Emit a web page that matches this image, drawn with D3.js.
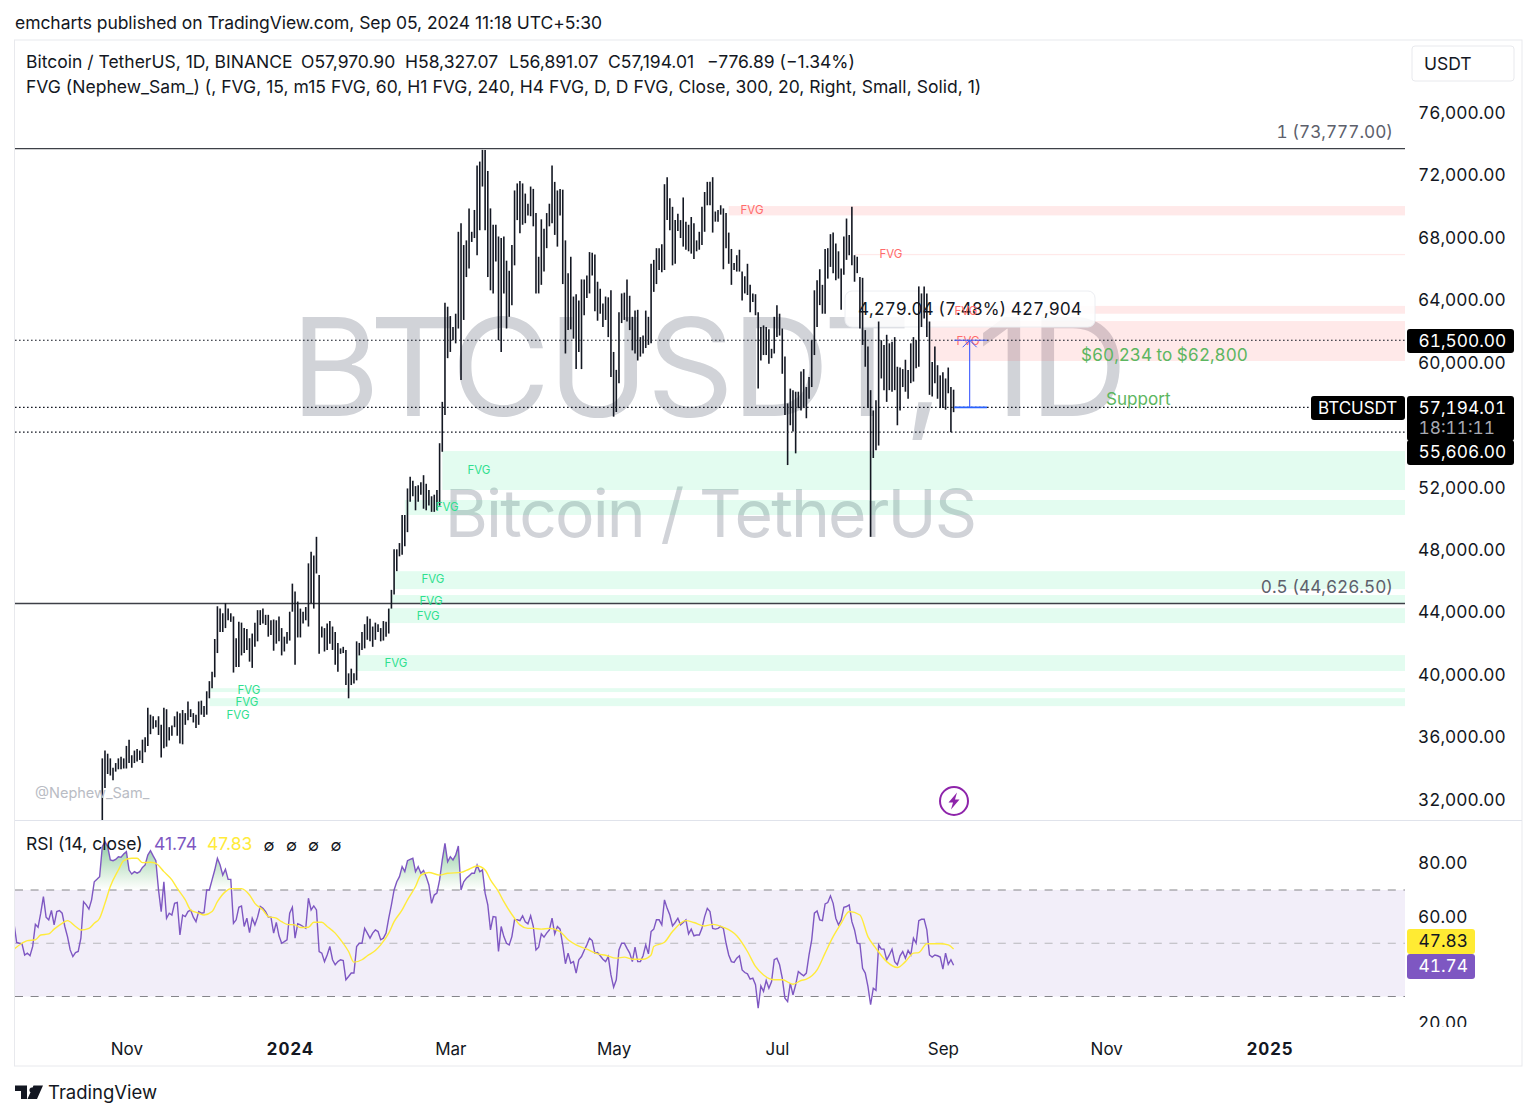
<!DOCTYPE html>
<html>
<head>
<meta charset="utf-8">
<script src="https://cdn.jsdelivr.net/npm/d3@7"></script>
<style>
	html, body { margin: 0; padding: 0; background: #fff; }
	svg { display: block; }
	text { font-family: Inter, "Noto Sans", sans-serif; fill: #131722; }
</style>
</head>
<body>
<script>
// daily highs / lows in thousands of USDT, first bar is 23 Oct 2023
var highs = [
	34.7,35.2,35.0,34.7,34.1,34.4,34.7,34.8,34.7,35.5,
	35.9,34.9,35.2,35.3,35.2,35.9,36.05,37.95,37.5,37.4,
	37.15,37.4,36.85,37.95,37.85,36.7,36.8,37.4,37.7,37.6,
	37.8,37.6,38.35,37.85,37.6,37.5,38.35,38.4,38.05,39.0,
	39.65,40.25,42.35,44.45,44.3,44.0,44.65,44.3,44.0,43.8,
	42.4,43.45,43.4,43.05,43.0,42.4,42.7,43.4,44.2,44.2,
	44.3,43.9,43.9,43.55,43.6,43.55,43.8,43.05,42.5,42.8,
	44.1,45.9,45.4,44.75,44.3,44.1,44.4,47.2,47.95,47.7,
	48.9,46.45,43.15,43.05,43.35,43.5,43.15,42.8,42.1,41.75,
	41.85,41.65,40.15,40.45,40.15,42.2,42.1,42.8,43.3,43.8,
	43.65,43.15,43.4,43.3,43.05,43.5,43.45,44.3,45.5,48.1,
	48.1,48.5,50.3,50.3,52.0,52.75,52.5,52.15,52.2,52.4,
	52.85,52.3,51.9,51.5,51.6,51.9,54.9,57.55,63.9,63.65,
	63.05,62.35,63.2,68.45,69.0,67.6,67.9,69.95,68.45,69.85,
	72.7,72.95,73.7,73.7,72.35,69.95,68.9,68.9,68.15,68.05,
	68.15,66.6,65.95,67.6,71.1,71.55,71.7,71.55,70.9,70.25,
	71.35,71.2,69.65,66.85,69.25,68.65,69.65,70.25,72.7,71.65,
	71.1,71.2,71.15,67.9,65.8,66.85,64.3,64.45,64.05,65.4,
	65.4,65.65,67.15,67.1,67.0,65.25,64.8,63.85,64.3,64.25,
	64.7,60.75,59.6,63.3,64.5,64.55,65.4,64.35,63.0,63.4,
	63.45,61.7,61.8,63.4,63.0,66.4,66.65,67.4,67.4,67.65,
	71.5,71.95,70.6,70.05,69.2,69.6,69.2,70.65,69.1,68.9,
	69.4,69.0,67.9,68.45,70.05,71.0,71.65,71.65,71.95,69.75,
	69.85,70.15,69.95,69.65,68.4,67.35,66.45,66.95,67.3,65.9,
	65.6,66.4,65.05,64.5,64.45,63.3,62.35,62.45,62.35,62.2,
	60.95,63.0,63.75,63.2,62.25,60.45,57.45,58.4,58.3,58.2,
	58.2,59.5,59.65,58.5,59.15,61.5,64.7,65.35,66.05,65.05,
	67.35,67.4,68.3,68.4,67.7,67.2,66.1,68.15,69.3,68.25,
	70.05,66.95,66.85,65.55,65.5,62.15,61.1,58.3,57.0,57.65,
	62.7,61.5,61.2,61.85,61.3,61.4,61.7,59.8,59.75,59.65,
	60.25,59.6,61.3,61.7,61.5,64.95,64.5,64.95,64.5,62.7,
	60.1,61.1,59.9,59.25,59.45,59.05,59.75,58.5,58.33
];
var lows = [
	30.75,32.8,33.7,33.6,33.3,33.85,34.0,34.0,34.05,34.05,
	34.4,34.1,34.4,34.5,34.6,34.4,35.1,35.5,36.25,36.6,
	36.7,36.2,34.75,35.35,35.45,35.85,36.15,36.7,36.15,35.65,
	35.6,36.85,37.15,37.35,37.0,36.65,36.85,37.5,37.35,37.5,
	38.55,39.2,39.9,41.45,42.8,42.8,43.05,43.55,43.45,40.2,
	40.55,40.55,41.3,41.45,41.65,40.9,40.5,41.85,42.2,43.25,
	43.35,43.25,42.5,42.6,41.6,42.05,42.2,41.3,41.55,42.05,
	42.25,44.1,40.7,42.45,42.45,43.35,43.55,43.15,44.65,44.3,
	46.55,41.4,42.45,41.55,41.65,42.05,41.65,40.7,40.25,41.4,
	41.45,39.4,38.55,39.4,39.5,39.7,41.3,41.65,41.75,42.3,
	42.2,41.85,42.3,42.8,42.2,42.25,42.5,42.7,44.3,45.2,
	46.7,47.65,47.75,48.3,49.2,51.15,51.5,50.6,51.15,51.6,
	50.7,50.6,50.9,50.5,50.5,50.6,50.9,54.35,56.7,60.35,
	60.75,61.5,61.3,62.25,58.95,62.8,65.55,66.1,67.8,68.05,
	66.95,68.55,71.35,68.55,65.55,64.7,64.5,66.55,61.5,60.75,
	64.5,62.25,63.0,63.75,66.3,69.2,68.35,68.9,69.0,69.5,
	69.45,68.8,64.5,64.5,65.05,65.9,67.4,68.8,69.0,68.25,
	67.5,69.5,65.1,60.65,62.15,62.2,61.6,59.65,60.75,59.65,
	63.1,64.2,64.5,65.65,63.35,62.75,63.2,62.35,62.8,61.7,
	59.15,56.6,56.9,58.75,62.6,62.8,62.7,62.15,60.85,60.65,
	60.2,60.45,60.65,61.0,61.2,61.3,64.6,65.1,66.0,65.85,
	66.0,69.2,68.55,66.3,66.4,68.5,68.05,67.5,67.3,67.2,
	67.05,66.7,67.2,67.3,67.6,68.45,70.15,70.15,68.4,69.1,
	69.1,69.55,66.05,67.4,66.4,65.05,66.0,65.9,65.9,64.05,
	64.5,64.4,63.3,63.95,63.1,58.4,60.2,60.55,60.55,60.0,
	60.35,60.65,61.7,61.8,59.35,56.7,53.5,56.05,55.65,54.25,
	57.15,57.0,57.15,56.5,57.75,58.5,60.55,62.35,63.75,63.2,
	63.2,65.45,66.2,65.8,65.35,65.45,63.45,65.7,66.65,66.95,
	66.3,65.25,65.8,62.25,61.2,59.8,57.15,48.9,53.95,54.45,
	54.75,59.05,58.3,57.55,58.3,58.2,58.3,56.05,57.0,58.5,
	58.2,57.75,58.75,58.85,59.7,59.8,62.35,62.9,61.7,58.0,
	57.9,58.75,57.75,57.15,57.15,57.05,58.1,55.6,56.89
];

// RSI(14), one value a day, the last one belongs to the last bar
var rsi = [
	57.5,50.3,50.0,49.8,45.6,46.3,45.3,48.8,57.1,56.0,61.3,
	67.5,59.8,58.8,62.3,56.9,61.9,62.3,61.3,56.3,52.5,47.5,45.0,46.5,46.9,51.9,65.6,64.4,62.8,66.3,73.1,74.0,75.0,
	86.3,88.1,86.3,81.3,81.0,81.5,82.5,82.3,83.5,84.4,77.5,76.0,76.9,76.3,76.9,78.5,79.4,83.1,84.8,82.8,81.0,
	70.0,61.9,73.1,59.4,61.3,60.6,65.0,65.3,53.1,60.6,60.0,61.9,62.5,59.8,58.1,61.9,61.3,61.5,70.0,70.0,73.8,77.5,
	81.9,79.4,75.6,77.8,74.0,74.0,57.5,58.8,63.5,64.0,56.3,59.4,54.0,59.4,56.9,59.8,63.8,63.1,61.9,59.8,59.8,53.8,
	57.8,52.8,50.0,50.6,51.3,61.3,63.5,51.9,57.3,56.9,56.3,55.6,66.9,62.5,64.0,62.5,46.9,46.3,43.1,45.6,48.8,43.8,
	41.9,43.1,43.8,43.5,36.3,37.5,38.8,38.8,48.8,50.0,50.0,55.6,53.8,51.9,53.8,55.0,54.4,51.3,51.9,53.8,59.4,64.4,
	70.0,73.1,75.0,78.8,76.9,81.0,81.5,81.9,76.9,78.8,76.3,77.3,75.0,71.9,65.0,68.1,68.8,73.8,81.3,87.5,80.6,82.5,
	81.3,83.1,86.5,70.0,73.1,74.4,75.3,76.3,76.3,79.4,76.9,77.5,68.8,64.4,55.0,60.0,59.8,46.9,56.3,52.5,50.0,49.4,
	52.5,58.8,
	58.8,58.5,60.3,58.1,57.3,60.3,56.3,47.5,48.5,53.5,52.3,53.8,55.0,59.4,53.5,56.3,55.3,49.4,42.3,46.3,42.5,43.1,
	38.8,43.8,45.0,47.3,49.4,51.9,51.0,46.3,46.5,45.3,44.0,43.1,45.0,38.1,33.5,36.3,47.5,50.0,50.0,48.1,46.3,43.1,
	48.5,43.1,43.1,45.3,49.4,46.0,54.4,55.3,58.8,58.8,56.9,66.3,63.1,60.6,56.5,57.8,59.4,56.9,57.8,58.8,53.5,55.3,
	52.8,53.1,53.1,55.6,60.0,63.1,61.9,55.6,55.3,55.6,56.3,55.6,
	50.0,45.6,43.1,42.8,44.4,45.3,40.0,39.0,38.5,36.5,36.9,34.4,25.6,34.0,31.9,36.0,33.1,35.6,43.8,44.4,41.9,36.9,
	29.4,28.1,35.0,30.6,34.4,39.4,38.5,37.8,38.8,45.6,51.3,61.3,62.1,58.8,58.5,64.8,65.3,67.8,
	65.0,59.4,56.9,58.8,63.5,63.8,64.4,58.1,55.0,50.0,49.8,40.6,38.8,33.8,26.9,33.1,32.3,49.4,47.8,47.8,43.8,45.6,
	47.8,43.1,41.9,45.3,46.9,44.4,47.3,45.6,51.9,50.0,58.5,59.0,59.0,55.0,45.6,44.8,45.6,45.3,44.8,40.3,46.3,42.1,
	43.8,41.74
];

// RSI moving average, read at the corners of the smooth yellow curve
var rsiMaDays = [
	-33,-30,-28,-25,-23,-20,-18,-15,-13,-10,-8,-5,-3,-1,1,3,6,8,11,13,15,18,20,23,26,28,31,33,36,38,41,43,46,48,52,55,
	57,60,62,65,67,69,72,74,77,79,82,84,87,89,92,94,97,99,102,104,107,109,112,114,117,119,122,126,129,134,137,140,143,
	145,148,150,154,156,159,161,164,167,171,174,177,181,185,188,192,195,198,202,205,206,210,213,218,221,225,228,232,
	237,241,244,247,251,254,258,261,263,267,270,273,276,279,283,286,289,293,297,300,303,305,308,313,316,318
];
var rsiMa = [
	47.8,50,51,51.3,53.1,53.5,55.3,57.5,58.5,56.3,55,55.6,57.5,59.4,65,71.3,77.5,81,81.9,81.9,80.3,80.4,80,76.9,73.8,70.6,
	66.3,62.5,61.3,60.6,61.9,65.6,69.4,70.5,70.5,68.1,
	65,62.5,60,59.4,58.1,57.1,56.9,55.9,56,57.9,57.9,56.3,53.8,51.3,46.9,42.9,43.8,45.3,47.3,49.4,53.8,58.1,62.5,66.3,
	71.3,75.6,76.6,75.6,76.3,76.6,77.8,79,77.5,
	73.8,69.4,65.6,59.4,56.9,55.6,55.6,55.3,55.6,54.4,51.3,49.4,47.8,46,45.5,44.4,44.8,44,44,45.6,48.8,50.4,54.4,58.5,
	57.8,56.5,57.1,56,
	52.8,46.9,41.3,38.1,36.3,36.3,34.6,36,36.5,40,46.3,52.5,57.5,61.9,60.6,52.5,48.1,43.1,40.9,43.1,46.3,46.5,49.8,49.8,
	49.4,47.83
];

var priceTicks = [32, 36, 40, 44, 48, 52, 56, 60, 64, 68, 72, 76];
var rsiTicks = [20, 40, 60, 80];
var rsiBands = [70, 50, 30];
var timeTickDates = [
	new Date(Date.UTC(2023, 10, 1)), new Date(Date.UTC(2024, 0, 1)), new Date(Date.UTC(2024, 2, 1)),
	new Date(Date.UTC(2024, 4, 1)), new Date(Date.UTC(2024, 6, 1)), new Date(Date.UTC(2024, 8, 1)),
	new Date(Date.UTC(2024, 10, 1)), new Date(Date.UTC(2025, 0, 1))
];
var timeTickLabels = ["Nov", "2024", "Mar", "May", "Jul", "Sep", "Nov", "2025"];

// fair value gaps: low, high (thousands), first day
var fvgRedLow = [69.5, 66.95, 63.2, 60.17];
var fvgRedHigh = [70.1, 67.03, 63.7, 62.73];
var fvgRedDay = [234, 281, 309, 309];
var fvgGreenLow = [51.9, 50.3, 45.55, 44.6, 43.37, 40.3, 38.95, 38.05];
var fvgGreenHigh = [54.4, 51.26, 46.7, 45.17, 44.33, 41.32, 39.2, 38.56];
var fvgGreenDay = [127, 113, 109, 108, 107, 95, 40, 40];
var redLabelDay = [242.7, 294.6, 322.6, 323.4];
var redLabelPrice = [69.85, 67.0, 63.4, 61.45];
var greenLabelDay = [140.7, 128.8, 123.5, 122.8, 121.7, 109.7, 54.8, 54.0, 50.7];
var greenLabelPrice = [53.2, 50.8, 46.2, 44.8, 43.8, 40.8, 39.1, 38.3, 37.5];

var fibLevels = [73.777, 44.6265];
var fibLabels = ["1 (73,777.00)", "0.5 (44,626.50)"];
var dottedLevels = [61.5, 57.19401, 55.606];

var display = {
	width: 1536,
	height: 1118,
	paneLeft: 15,
	paneRight: 1405,
	paneTop: 41,
	paneBottom: 820,
	rsiBottom: 1026,

	dayDate: function(i) {
		return new Date(Date.UTC(2023, 9, 23) + i * 864e5);
	},
	xDay: function(i) {
		return display.x(display.dayDate(i));
	},
	label: function(g, x, y, txt, opts) {
		opts = opts || {};
		return g.append("text")
			.attr("x", x)
			.attr("y", y)
			.attr("dy", "0.35em")
			.attr("text-anchor", opts.anchor || "start")
			.style("font-size", (opts.size || 17.5) + "px")
			.style("font-weight", opts.weight || 400)
			.style("letter-spacing", (opts.spacing || 0) + "px")
			.style("font-variant-numeric", opts.tnum ? "tabular-nums" : "normal")
			.style("fill", opts.fill || "#131722")
			.text(txt);
	},
	priceBox: function(g, x, y, w, h, fill) {
		g.append("rect").attr("x", x).attr("y", y).attr("width", w).attr("height", h).attr("rx", 3).attr("fill", fill);
	},

	initialize: function() {
		var svg = d3.select("body").append("svg")
			.attr("width", display.width)
			.attr("height", display.height);
		display.svg = svg;

		display.x = d3.scaleUtc()
			.domain([display.dayDate(0), display.dayDate(318)])
			.range([102.3, 953.6]);
		display.y = d3.scaleLinear().domain([32, 76]).range([800.5, 114]);
		display.yRsi = d3.scaleLinear().domain([30, 70]).range([996.5, 890]);

		var defs = svg.append("defs");
		defs.append("clipPath").attr("id", "pricePane").append("rect")
			.attr("x", display.paneLeft).attr("y", display.paneTop)
			.attr("width", display.paneRight - display.paneLeft).attr("height", display.paneBottom - display.paneTop);
		defs.append("clipPath").attr("id", "rsiPane").append("rect")
			.attr("x", display.paneLeft).attr("y", display.paneBottom + 1)
			.attr("width", display.paneRight - display.paneLeft).attr("height", display.rsiBottom - display.paneBottom);
		defs.append("clipPath").attr("id", "rsiAxisClip").append("rect")
			.attr("x", 1406).attr("y", display.paneBottom + 1)
			.attr("width", 115).attr("height", display.rsiBottom - display.paneBottom);
		defs.append("clipPath").attr("id", "rsiOver").append("rect")
			.attr("x", display.paneLeft).attr("y", display.paneBottom + 1)
			.attr("width", display.paneRight - display.paneLeft).attr("height", display.yRsi(70) - display.paneBottom - 1);
		var grad = defs.append("linearGradient").attr("id", "rsiFill")
			.attr("gradientUnits", "userSpaceOnUse")
			.attr("x1", 0).attr("x2", 0).attr("y1", display.yRsi(88)).attr("y2", display.yRsi(70));
		grad.append("stop").attr("offset", 0).attr("stop-color", "#2e9e5b").attr("stop-opacity", 0.55);
		grad.append("stop").attr("offset", 1).attr("stop-color", "#4caf50").attr("stop-opacity", 0);

		display.drawFrame(svg);
		display.drawPrice(svg);
		display.drawRsi(svg);
		display.drawAxes(svg);
		display.drawHeader(svg);
	},

	drawFrame: function(svg) {
		svg.append("rect")
			.attr("x", 14.5).attr("y", 40).attr("width", 1507.5).attr("height", 1026)
			.attr("fill", "#fff").attr("stroke", "#e8e9ed");
		svg.append("line")
			.attr("x1", 15).attr("x2", 1522).attr("y1", 820.5).attr("y2", 820.5)
			.attr("stroke", "#e0e3eb");
	},

	drawPrice: function(svg) {
		var x = display.x, y = display.y, xDay = display.xDay;
		var g = svg.append("g").attr("clip-path", "url(#pricePane)");

		// watermark
		display.label(g, 708, 368, "BTCUSDT, 1D", { anchor: "middle", size: 136, spacing: -2.4, fill: "#d1d3d8" });
		display.label(g, 710, 514, "Bitcoin / TetherUS", { anchor: "middle", size: 66, spacing: -1.9, fill: "#d1d3d8" });

		g.selectAll(".fvgRed").data(fvgRedLow).enter().append("rect")
			.attr("class", "fvgRed")
			.attr("x", function(d, i) { return xDay(fvgRedDay[i]); })
			.attr("y", function(d, i) { return y(fvgRedHigh[i]); })
			.attr("width", function(d, i) { return display.paneRight - xDay(fvgRedDay[i]); })
			.attr("height", function(d, i) { return y(d) - y(fvgRedHigh[i]); })
			.attr("fill", "#ff5252").attr("fill-opacity", 0.13);
		g.selectAll(".fvgGreen").data(fvgGreenLow).enter().append("rect")
			.attr("class", "fvgGreen")
			.attr("x", function(d, i) { return xDay(fvgGreenDay[i]); })
			.attr("y", function(d, i) { return y(fvgGreenHigh[i]); })
			.attr("width", function(d, i) { return display.paneRight - xDay(fvgGreenDay[i]); })
			.attr("height", function(d, i) { return y(d) - y(fvgGreenHigh[i]); })
			.attr("fill", "#00e676").attr("fill-opacity", 0.11);

		g.selectAll(".dotted").data(dottedLevels).enter().append("line")
			.attr("class", "dotted")
			.attr("x1", display.paneLeft).attr("x2", display.paneRight)
			.attr("y1", function(d) { return y(d); }).attr("y2", function(d) { return y(d); })
			.attr("stroke", "#131722").attr("stroke-width", 1.2).attr("stroke-dasharray", "1.6 2.4");
		g.selectAll(".fib").data(fibLevels).enter().append("line")
			.attr("class", "fib")
			.attr("x1", display.paneLeft).attr("x2", display.paneRight)
			.attr("y1", function(d) { return y(d); }).attr("y2", function(d) { return y(d); })
			.attr("stroke", "#3d4047").attr("stroke-width", 1.3);
		fibLevels.forEach(function(d, i) {
			display.label(g, 1393, y(d) - 16.5, fibLabels[i], { anchor: "end", fill: "#5d606b", size: 17.2, tnum: true });
		});

		// measure tool tooltip sits under the bars
		g.append("rect")
			.attr("x", 845).attr("y", 291).attr("width", 250).attr("height", 36).attr("rx", 7)
			.attr("fill", "#fff").attr("fill-opacity", 0.86)
			.attr("stroke", "#eceef2");
		display.label(g, 858, 309, "4,279.04 (7.48%) 427,904", { size: 17.1, tnum: true });

		g.selectAll(".bar").data(highs).enter().append("line")
			.attr("class", "bar")
			.attr("x1", function(d, i) { return xDay(i); })
			.attr("x2", function(d, i) { return xDay(i); })
			.attr("y1", function(d) { return y(d); })
			.attr("y2", function(d, i) { return y(lows[i]); })
			.attr("stroke", "#131722").attr("stroke-width", 1.6);

		redLabelDay.forEach(function(d, i) {
			display.label(g, xDay(d), y(redLabelPrice[i]), "FVG", { anchor: "middle", size: 11.5, fill: "#ff6b6b" });
		});
		greenLabelDay.forEach(function(d, i) {
			display.label(g, xDay(d), y(greenLabelPrice[i]), "FVG", { anchor: "middle", size: 11.5, fill: "#2fe08f" });
		});

		// measure tool, from the last close up to 61,500
		var mx = xDay(324), ml = xDay(318.2), mr = xDay(330.5);
		g.append("line").attr("x1", mx).attr("x2", mx).attr("y1", y(61.5)).attr("y2", y(57.19401)).attr("stroke", "#3d5afe").attr("stroke-width", 1.1);
		g.append("line").attr("x1", ml).attr("x2", mr).attr("y1", y(61.5)).attr("y2", y(61.5)).attr("stroke", "#3d5afe").attr("stroke-width", 1);
		g.append("line").attr("x1", ml).attr("x2", mr).attr("y1", y(57.19401)).attr("y2", y(57.19401)).attr("stroke", "#2962ff").attr("stroke-width", 1.6);
		g.append("path")
			.attr("d", "M" + (mx - 7) + "," + (y(61.5) + 7) + "L" + mx + "," + y(61.5) + "L" + (mx + 7) + "," + (y(61.5) + 7))
			.attr("fill", "none").attr("stroke", "#3d5afe").attr("stroke-width", 1);

		display.label(g, 1081, 355, "$60,234 to $62,800", { fill: "#5cb660", size: 17.1, tnum: true });
		display.label(g, 1106, 399, "Support", { fill: "#5cb660", size: 17.1 });
		display.label(g, 35, 793, "@Nephew_Sam_", { fill: "#b9bcc4", size: 14.5 });

		// lightning badge
		g.append("circle").attr("cx", 954).attr("cy", 801).attr("r", 14)
			.attr("fill", "#fff").attr("stroke", "#8e24aa").attr("stroke-width", 2);
		g.append("path").attr("d", "M957,792.5L948.5,802.5H953L951,809.5L959.5,799.5H955Z").attr("fill", "#8e24aa");
	},

	drawRsi: function(svg) {
		var yRsi = display.yRsi, xDay = display.xDay;
		var g = svg.append("g").attr("clip-path", "url(#rsiPane)");
		var rsiStart = 318 - rsi.length + 1;

		g.append("rect")
			.attr("x", display.paneLeft).attr("y", yRsi(70))
			.attr("width", display.paneRight - display.paneLeft).attr("height", yRsi(30) - yRsi(70))
			.attr("fill", "#7e57c2").attr("fill-opacity", 0.1);
		g.selectAll(".band").data(rsiBands).enter().append("line")
			.attr("class", "band")
			.attr("x1", display.paneLeft).attr("x2", display.paneRight)
			.attr("y1", function(d) { return yRsi(d); }).attr("y2", function(d) { return yRsi(d); })
			.attr("stroke", function(d) { return d == 50 ? "#b8b8bc" : "#85858a"; })
			.attr("stroke-width", 1.1).attr("stroke-dasharray", "8 7.6");

		var rsiX = function(d, i) { return xDay(rsiStart + i); };
		var area = d3.area().x(rsiX).y0(yRsi(70)).y1(function(d) { return yRsi(d); });
		g.append("path").datum(rsi)
			.attr("clip-path", "url(#rsiOver)")
			.attr("d", area).attr("fill", "url(#rsiFill)");
		g.append("path").datum(rsi)
			.attr("d", d3.line().x(rsiX).y(function(d) { return yRsi(d); }))
			.attr("fill", "none").attr("stroke", "#7e57c2").attr("stroke-width", 1.4);
		g.append("path").datum(rsiMa)
			.attr("d", d3.line().curve(d3.curveMonotoneX)
				.x(function(d, i) { return xDay(rsiMaDays[i]); })
				.y(function(d) { return yRsi(d); }))
			.attr("fill", "none").attr("stroke", "#ffeb3b").attr("stroke-width", 1.4);

		display.label(svg, 26, 844, "RSI (14, close)");
		display.label(svg, 154, 844, "41.74", { fill: "#7e57c2" });
		display.label(svg, 207, 844, "47.83", { fill: "#ffeb3b" });
		[269, 291.5, 313.5, 336].forEach(function(px) {
			display.label(svg, px, 845, "\u2205", { anchor: "middle", size: 16 });
		});
	},

	drawAxes: function(svg) {
		var priceAxis = d3.axisRight(display.y)
			.tickValues(priceTicks)
			.tickSize(0).tickPadding(13)
			.tickFormat(function(d) { return d3.format(",.2f")(d * 1000); });
		var gp = svg.append("g").attr("transform", "translate(1405,-1)").call(priceAxis);
		gp.select(".domain").remove();
		gp.selectAll("text").style("font-size", "17.3px").style("font-family", "Inter").style("font-variant-numeric", "tabular-nums");

		var rsiAxis = d3.axisRight(display.yRsi)
			.tickValues(rsiTicks)
			.tickSize(0).tickPadding(13)
			.tickFormat(d3.format(".2f"));
		var gr = svg.append("g").attr("clip-path", "url(#rsiAxisClip)")
			.append("g").attr("transform", "translate(1405,0)").call(rsiAxis);
		gr.select(".domain").remove();
		gr.selectAll("text").style("font-size", "17.3px").style("font-family", "Inter").style("font-variant-numeric", "tabular-nums");

		var timeAxis = d3.axisBottom(display.x)
			.tickValues(timeTickDates)
			.tickSize(0).tickPadding(0)
			.tickFormat(function(d, i) { return timeTickLabels[i]; });
		var gt = svg.append("g").attr("transform", "translate(0,1042.5)").call(timeAxis);
		gt.select(".domain").remove();
		gt.selectAll("text")
			.style("font-size", "17px").style("font-family", "Inter").style("font-variant-numeric", "tabular-nums")
			.style("font-weight", function(d, i) { return timeTickLabels[i].length == 4 ? 700 : 400; })
			.style("letter-spacing", function(d, i) { return timeTickLabels[i].length == 4 ? "0.8px" : "0"; });

		// last value labels
		var boxText = { fill: "#fff", size: 17.3, tnum: true };
		display.priceBox(svg, 1407, 329, 107, 24, "#000");
		display.label(svg, 1418.5, 340.5, "61,500.00", boxText);
		display.priceBox(svg, 1311, 396, 94, 24, "#000");
		display.label(svg, 1318, 408, "BTCUSDT", { fill: "#fff", size: 17 });
		display.priceBox(svg, 1407, 396, 107, 45, "#000");
		display.label(svg, 1418.5, 407.5, "57,194.01", boxText);
		display.label(svg, 1418.5, 427.5, "18:11:11", { fill: "#a6a9b2", size: 17.3, tnum: true });
		display.priceBox(svg, 1407, 440, 107, 25, "#000");
		display.label(svg, 1418.5, 452, "55,606.00", boxText);

		display.priceBox(svg, 1407, 929, 68, 25, "#ffeb33");
		display.label(svg, 1418.5, 941, "47.83", { size: 17.3, tnum: true });
		display.priceBox(svg, 1407, 954, 68, 25, "#7e57c2");
		display.label(svg, 1418.5, 966, "41.74", boxText);
	},

	drawHeader: function(svg) {
		display.label(svg, 15, 23, "emcharts published on TradingView.com, Sep 05, 2024 11:18 UTC+5:30", { spacing: -0.06 });
		display.label(svg, 26, 62, "Bitcoin / TetherUS, 1D, BINANCE");
		display.label(svg, 301, 62, "O57,970.90");
		display.label(svg, 405, 62, "H58,327.07");
		display.label(svg, 509, 62, "L56,891.07");
		display.label(svg, 608, 62, "C57,194.01");
		display.label(svg, 707, 62, "\u2212776.89 (\u22121.34%)");
		display.label(svg, 26, 87, "FVG (Nephew_Sam_) (, FVG, 15, m15 FVG, 60, H1 FVG, 240, H4 FVG, D, D FVG, Close, 300, 20, Right, Small, Solid, 1)", { spacing: 0.02 });

		svg.append("rect")
			.attr("x", 1412).attr("y", 46).attr("width", 102).attr("height", 35).attr("rx", 3)
			.attr("fill", "#fff").attr("stroke", "#e8e9ed");
		display.label(svg, 1424, 64, "USDT");

		// TradingView mark
		svg.append("path")
			.attr("d", "M15,1085.5H27V1099H21V1091H15ZM27.5,1099L33.5,1085.5H43L37,1099Z M32,1087.5a2.6,2.6 0 1 1 -0.01,0Z")
			.attr("fill", "#131722");
		display.label(svg, 48, 1093, "TradingView", { size: 18.5 });
	}
};

display.initialize();
</script>
</body>
</html>
